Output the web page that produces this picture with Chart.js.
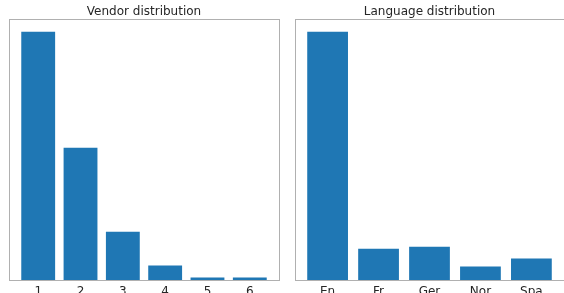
<!DOCTYPE html>
<html>
<head>
<meta charset="utf-8">
<script src="https://cdn.jsdelivr.net/npm/chart.js@4"></script>
<style>
  body { margin: 0; width: 564px; height: 293px; overflow: hidden; background: #fff; position: relative; }
  .box { position: absolute; top: 0; height: 306px; }
</style>
</head>
<body>
<div class="box" style="left:0; width:290px;"><canvas id="vendorChart"></canvas></div>
<div class="box" style="left:285px; width:290px;"><canvas id="langChart"></canvas></div>
<script>
// datos
var vendorLabels = ['1', '2', '3', '4', '5', '6'];
var vendorCounts = [249, 133, 49, 15, 3, 3];

var langLabels = ['En', 'Fr', 'Ger', 'Nor', 'Spa'];
var langCounts = [249, 32, 34, 14, 22];

Chart.defaults.font.family = 'DejaVu Sans';
Chart.defaults.color = '#262626';

// marco gris alrededor del area del grafico
var framePlugin = {
    id: 'frame',
    afterDraw: function(chart) {
        var a = chart.chartArea, c = chart.ctx;
        c.save();
        c.strokeStyle = '#b0b0b0';
        c.lineWidth = 1;
        c.strokeRect(Math.round(a.left) + 0.5, Math.round(a.top) + 0.5,
                     Math.round(a.right - a.left), Math.round(a.bottom - a.top));
        c.restore();
    }
};

function makeChart(id, title, labels, counts, padLeft, padRight) {
    var n = labels.length;
    var margin = 0.05 * (n - 1 + 0.8);
    var ctx = document.getElementById(id).getContext('2d');
    return new Chart(ctx, {
        type: 'bar',
        data: {
            datasets: [{
                data: counts.map(function(v, i) { return {x: i, y: v}; }),
                backgroundColor: '#1f77b4',
                borderWidth: 0,
                barPercentage: 0.8,
                categoryPercentage: 1.0
            }]
        },
        options: {
            responsive: true,
            maintainAspectRatio: false,
            animation: false,
            layout: { padding: { left: padLeft, right: padRight, top: 0, bottom: 3 } },
            plugins: {
                legend: { display: false },
                tooltip: { enabled: false },
                title: {
                    display: true,
                    text: title,
                    font: { size: 12, weight: 'normal' },
                    color: '#262626',
                    padding: { top: 5, bottom: 0 }
                }
            },
            scales: {
                x: {
                    type: 'linear',
                    offset: false,
                    min: -0.4 - margin,
                    max: n - 1 + 0.4 + margin,
                    afterBuildTicks: function(s) {
                        s.ticks = labels.map(function(_, i) { return {value: i}; });
                    },
                    ticks: {
                        autoSkip: false,
                        maxRotation: 0,
                        padding: 4,
                        font: { size: 12 },
                        callback: function(v) { return labels[v]; }
                    },
                    grid: { display: false, drawTicks: false, tickLength: 0, offset: false },
                    border: { display: false }
                },
                y: {
                    display: false,
                    min: 0,
                    max: Math.max.apply(null, counts) * 1.05
                }
            }
        },
        plugins: [framePlugin]
    });
}

makeChart('vendorChart', 'Vendor distribution', vendorLabels, vendorCounts, 9, 11);
makeChart('langChart', 'Language distribution', langLabels, langCounts, 10, 11);
</script>
</body>
</html>
